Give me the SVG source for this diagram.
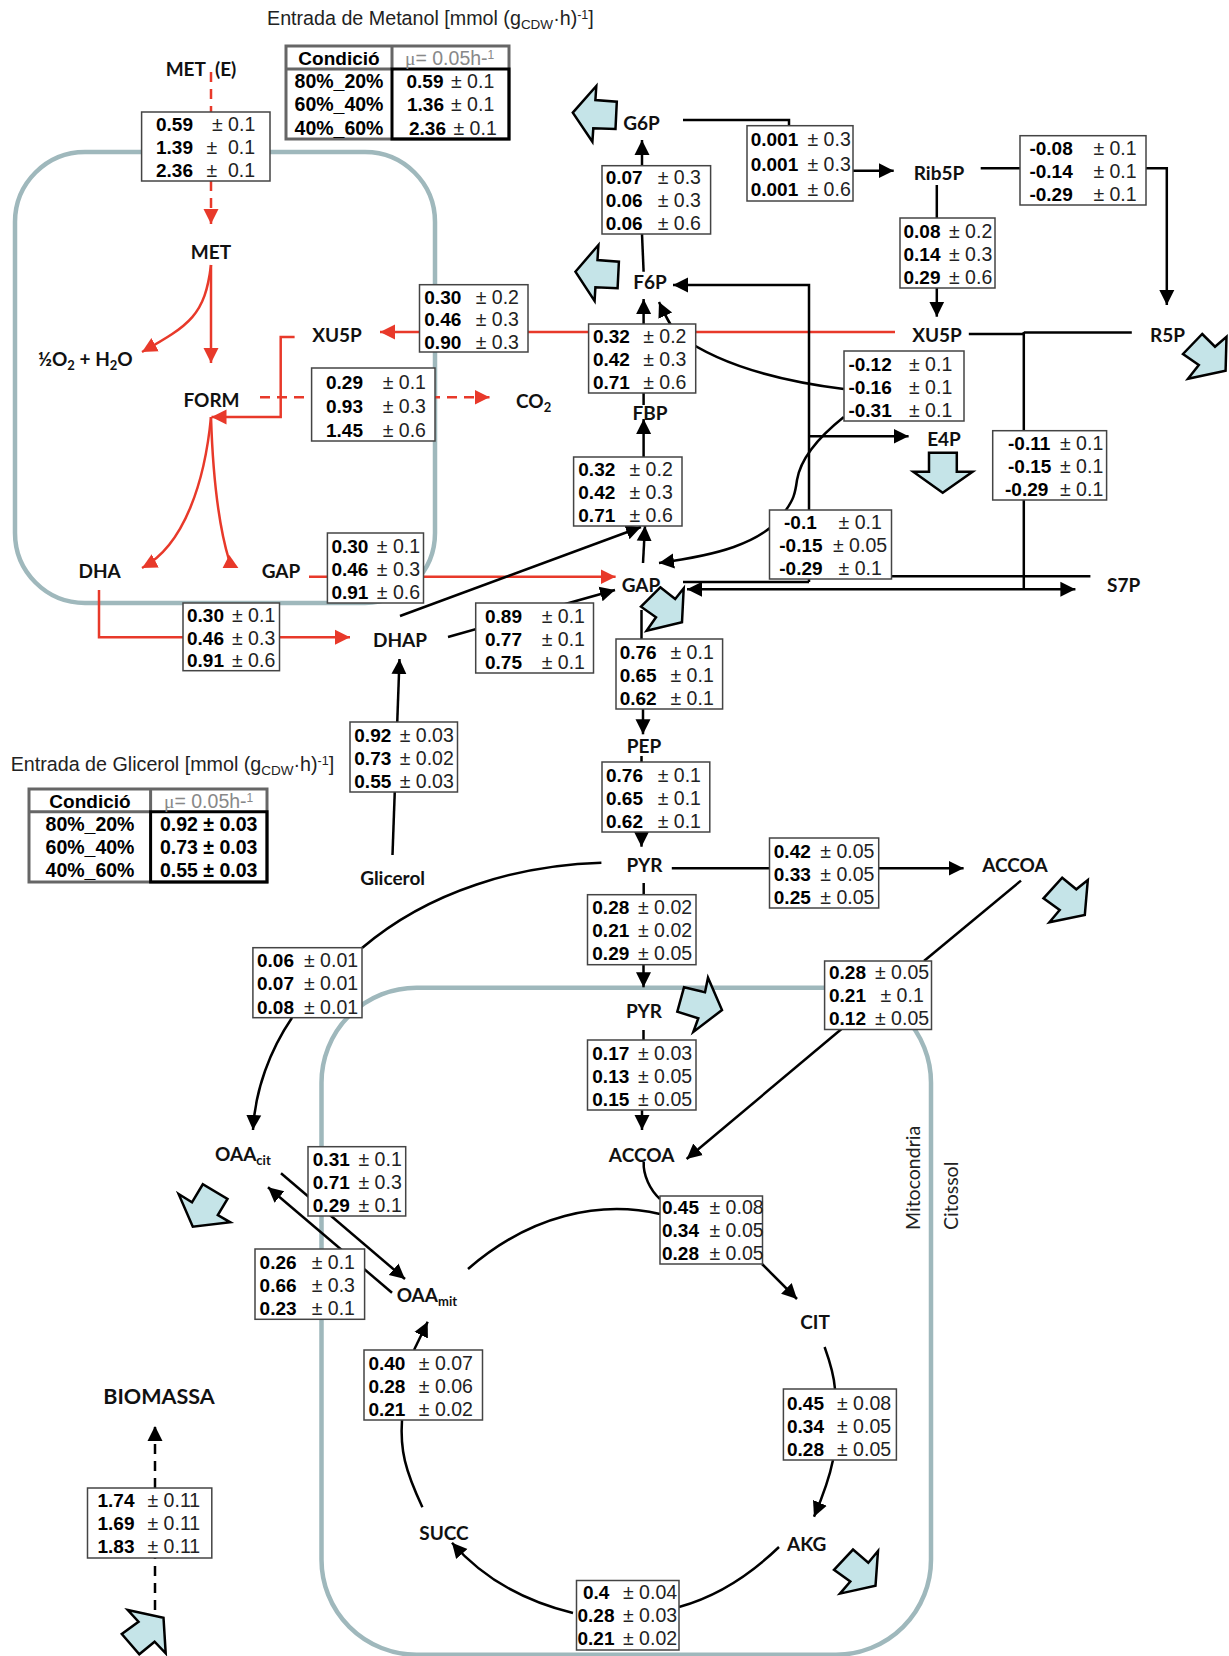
<svg xmlns="http://www.w3.org/2000/svg" width="1229" height="1656" viewBox="0 0 1229 1656">
<style>
text{font-family:"Liberation Sans",Arial,sans-serif;font-size:19.5px;fill:#222}
.b{font-weight:700;fill:#000;font-size:19px}
.tt{font-size:19.7px}
.tv{font-size:19.5px}
.l{font-family:Lato,"Noto Sans",sans-serif;font-weight:700;font-size:19px;fill:#111;text-anchor:middle}
.ls{text-anchor:start}
.r{font-family:Lato,"Noto Sans",sans-serif;font-size:19.5px;fill:#222}
.box rect{fill:#fff;stroke:#444;stroke-width:1.5}
.k,.rd{fill:none;stroke-width:2.5}
.k{stroke:#000;marker-end:url(#ak)}
.rd{stroke:#e8392a;marker-end:url(#ar)}
.n{marker-end:none}
.d{stroke-dasharray:10 7}
.mem{fill:none;stroke:#9fb8bc;stroke-width:4.5}
.t{fill:#c5e4e8;stroke:#000;stroke-width:2.5}
.tb{fill:none;stroke:#666;stroke-width:3}
.tk{fill:none;stroke:#000;stroke-width:3}
.g{fill:#888}
</style>
<defs>
<marker id="ak" markerUnits="userSpaceOnUse" markerWidth="17" markerHeight="17" refX="15" refY="8" orient="auto"><path d="M0,0.5L15,8L0,15.5z" fill="#000"/></marker>
<marker id="ar" markerUnits="userSpaceOnUse" markerWidth="17" markerHeight="17" refX="15" refY="8" orient="auto"><path d="M0,0.5L15,8L0,15.5z" fill="#e8392a"/></marker>
</defs>
<rect class="mem" x="15" y="152" width="420" height="451" rx="70"/>
<rect class="mem" x="321.5" y="987.7" width="609.5" height="667" rx="95"/>
<g id="connectors">
<path class="rd d n" d="M211,72V112"/>
<path class="rd d" d="M211,181V224"/>
<path class="rd" d="M211,265V363"/>
<path class="rd" d="M211,265C205,315 190,325 142,352"/>
<path class="rd" d="M588,332H380"/>
<path class="rd n" d="M696,332H895"/>
<path class="rd" d="M294.6,337H280.7V417H211.5"/>
<path class="rd d" d="M260,397.3H489.5"/>
<path class="rd" d="M211,417C205,480 185,545 142,568"/>
<path class="rd n" d="M211,417C213,480 220,530 229,560"/>
<polygon points="229.3,555 238.4,568 222.6,568" fill="#e8392a"/>
<path class="rd" d="M309,576.7H615.6"/>
<path class="rd" d="M99,590V637.3H350"/>
<path class="k" d="M400,616L641,527"/>
<path class="k" d="M448,637L615,590"/>
<path class="k" d="M392.5,855L399.5,659"/>
<path class="k" d="M643,563L645,526"/>
<path class="k" d="M643.6,457V419"/>
<path class="k n" d="M643.6,405V393"/>
<path class="k" d="M643.6,324V299"/>
<path class="k" d="M843.8,389C780,381 720,365 680,336C672,330 665,315 659,302"/>
<path class="k n" d="M643.6,271.7L642,234"/>
<path class="k" d="M642,166V140"/>
<path class="k n" d="M683,120H789V126"/>
<path class="k" d="M853,170.7H893.7"/>
<path class="k n" d="M980.7,168.3H1020"/>
<path class="k" d="M1146,168.3H1166.8V305"/>
<path class="k" d="M936.8,185V316.7"/>
<path class="k n" d="M968.8,334H1023.8"/>
<path class="k n" d="M1023.8,332.5H1131.8"/>
<path class="k n" d="M1023.8,332V589"/>
<path class="k" d="M809,582V285H673"/>
<path class="k n" d="M683,582H809"/>
<path class="k" d="M809,436.3H908.6"/>
<path class="k" d="M843.8,417C815,440 800,462 797,480C795,495 793,500 786,510C765,545 710,556 659,563"/>
<path class="k n" d="M891,576.3H1090.4"/>
<path class="k" d="M760,589.3H1075.4"/>
<path class="k" d="M760,589.3H687"/>
<path class="k n" d="M641.5,610V639"/>
<path class="k" d="M643,709V734.3"/>
<path class="k n" d="M641.5,756V762"/>
<path class="k" d="M641.5,832V846.7"/>
<path class="k" d="M671.8,868.3H963.6"/>
<path class="k n" d="M601.4,862.7C520,865 430,890 362,948"/>
<path class="k" d="M292,1017.7C270,1050 255,1090 253,1130"/>
<path class="k n" d="M643.7,883V895"/>
<path class="k" d="M643.5,965V987.3"/>
<path class="k n" d="M643.5,1030V1040"/>
<path class="k" d="M642,1110V1130"/>
<path class="k n" d="M1021,880.6L924,961"/>
<path class="k" d="M841.5,1029L686.6,1159"/>
<path class="k n" d="M643.7,1161.7C643,1175 650,1190 660,1199"/>
<path class="k n" d="M660,1214C600,1200 530,1215 468,1269"/>
<path class="k" d="M762,1264L797,1299"/>
<path class="k n" d="M824.6,1347C830,1362 834,1375 835,1389"/>
<path class="k" d="M833,1460C829,1480 822,1498 814,1516.7"/>
<path class="k n" d="M779,1547C750,1575 715,1597 679,1607"/>
<path class="k" d="M573,1613C520,1600 480,1575 452,1542.7"/>
<path class="k n" d="M422.4,1507.3C405,1470 400,1450 402,1420"/>
<path class="k" d="M414,1350L427.7,1321.7"/>
<path class="k" d="M281,1173.3L405,1279"/>
<path class="k" d="M392,1292.7L268,1187.3"/>
<path class="k d n" d="M155,1610V1558"/>
<path class="k d" d="M155,1488V1426"/>
</g>
<g id="table-metanol">
<text class="tt" x="267" y="25">Entrada de Metanol [mmol (g<tspan font-size="13.5" dy="4">CDW</tspan><tspan dy="-4">·h)</tspan><tspan font-size="12.5" dy="-6">-1</tspan><tspan dy="6">]</tspan></text>
<rect x="286" y="46" width="223" height="93" fill="#fff" class="tb"/>
<path class="tb" d="M286,69H392V46"/>
<path class="tk" d="M392,69H509V139H392z"/>
<text class="b" x="339" y="65" text-anchor="middle">Condició</text>
<text class="g" x="405" y="65"><tspan font-family="Liberation Serif" fill="#888">μ</tspan>= 0.05h-<tspan font-size="12" dy="-6" fill="#888">1</tspan></text>
<text class="b tv" x="339" y="88" text-anchor="middle">80%_20%</text>
<text class="b tv" x="339" y="111" text-anchor="middle">60%_40%</text>
<text class="b tv" x="339" y="135" text-anchor="middle">40%_60%</text>
<text x="406.5" y="88"><tspan class="b">0.59</tspan><tspan x="451">± 0.1</tspan></text>
<text x="407" y="111"><tspan class="b">1.36</tspan><tspan x="451">± 0.1</tspan></text>
<text x="409" y="135"><tspan class="b">2.36</tspan><tspan x="453.5">± 0.1</tspan></text>
</g>
<g id="table-glicerol">
<text class="tt" x="10.7" y="771">Entrada de Glicerol [mmol (g<tspan font-size="13.5" dy="4">CDW</tspan><tspan dy="-4">·h)</tspan><tspan font-size="12.5" dy="-6">-1</tspan><tspan dy="6">]</tspan></text>
<rect x="29" y="789" width="238" height="93" fill="#fff" class="tb"/>
<path class="tb" d="M29,811.7H150.6V789"/>
<path class="tk" d="M150.6,811.7H267V882H150.6z"/>
<text class="b" x="90" y="808" text-anchor="middle">Condició</text>
<text class="g" x="164" y="808"><tspan font-family="Liberation Serif" fill="#888">μ</tspan>= 0.05h-<tspan font-size="12" dy="-6" fill="#888">1</tspan></text>
<text class="b tv" x="90" y="831" text-anchor="middle">80%_20%</text>
<text class="b tv" x="90" y="854" text-anchor="middle">60%_40%</text>
<text class="b tv" x="90" y="877" text-anchor="middle">40%_60%</text>
<text class="b tv" x="160" y="831">0.92 ± 0.03</text>
<text class="b tv" x="160" y="854">0.73 ± 0.03</text>
<text class="b tv" x="160" y="877">0.55 ± 0.03</text>
</g>
<g id="f-met" class="box"><rect x="141.6" y="112" width="128.4" height="69"/>
<text x="156" y="131"><tspan class="b">0.59</tspan><tspan x="212">± 0.1</tspan></text>
<text x="156" y="154"><tspan class="b">1.39</tspan><tspan x="206.5">±</tspan><tspan x="228">0.1</tspan></text>
<text x="156" y="177"><tspan class="b">2.36</tspan><tspan x="206.5">±</tspan><tspan x="228">0.1</tspan></text></g>
<g id="f-xu5p-l" class="box"><rect x="419.5" y="284.7" width="108.5" height="67.3"/>
<text x="424.3" y="304"><tspan class="b">0.30</tspan><tspan x="475.7">± 0.2</tspan></text>
<text x="424.3" y="326"><tspan class="b">0.46</tspan><tspan x="475.7">± 0.3</tspan></text>
<text x="424.3" y="349"><tspan class="b">0.90</tspan><tspan x="475.7">± 0.3</tspan></text></g>
<g id="f-form" class="box"><rect x="311.6" y="368" width="123.4" height="73"/>
<text x="326" y="389"><tspan class="b">0.29</tspan><tspan x="382.7">± 0.1</tspan></text>
<text x="326" y="413"><tspan class="b">0.93</tspan><tspan x="382.7">± 0.3</tspan></text>
<text x="326" y="437"><tspan class="b">1.45</tspan><tspan x="382.7">± 0.6</tspan></text></g>
<g id="f-g6p" class="box"><rect x="747" y="125.7" width="106" height="75.3"/>
<text x="750.7" y="146"><tspan class="b">0.001</tspan><tspan x="807.5">± 0.3</tspan></text>
<text x="750.7" y="171"><tspan class="b">0.001</tspan><tspan x="807.5">± 0.3</tspan></text>
<text x="750.7" y="196"><tspan class="b">0.001</tspan><tspan x="807.5">± 0.6</tspan></text></g>
<g id="f-rib-r" class="box"><rect x="1020" y="135.7" width="126" height="69.3"/>
<text x="1029.4" y="155"><tspan class="b">-0.08</tspan><tspan x="1093.4">± 0.1</tspan></text>
<text x="1029.4" y="178"><tspan class="b">-0.14</tspan><tspan x="1093.4">± 0.1</tspan></text>
<text x="1029.4" y="201"><tspan class="b">-0.29</tspan><tspan x="1093.4">± 0.1</tspan></text></g>
<g id="f-f6p" class="box"><rect x="602" y="165.7" width="108.6" height="68.3"/>
<text x="605.7" y="184"><tspan class="b">0.07</tspan><tspan x="657.7">± 0.3</tspan></text>
<text x="605.7" y="207"><tspan class="b">0.06</tspan><tspan x="657.7">± 0.3</tspan></text>
<text x="605.7" y="230"><tspan class="b">0.06</tspan><tspan x="657.7">± 0.6</tspan></text></g>
<g id="f-rib" class="box"><rect x="900" y="218" width="95" height="70"/>
<text x="903.5" y="238"><tspan class="b">0.08</tspan><tspan x="949">± 0.2</tspan></text>
<text x="903.5" y="261"><tspan class="b">0.14</tspan><tspan x="949">± 0.3</tspan></text>
<text x="903.5" y="284"><tspan class="b">0.29</tspan><tspan x="949">± 0.6</tspan></text></g>
<g id="f-fbp-a" class="box"><rect x="588.6" y="324" width="107.1" height="69"/>
<text x="592.9" y="343"><tspan class="b">0.32</tspan><tspan x="643.2">± 0.2</tspan></text>
<text x="592.9" y="366"><tspan class="b">0.42</tspan><tspan x="643.2">± 0.3</tspan></text>
<text x="592.9" y="389"><tspan class="b">0.71</tspan><tspan x="643.2">± 0.6</tspan></text></g>
<g id="f-e4p" class="box"><rect x="844" y="351" width="120" height="70"/>
<text x="848.4" y="370.7"><tspan class="b">-0.12</tspan><tspan x="909">± 0.1</tspan></text>
<text x="848.4" y="393.7"><tspan class="b">-0.16</tspan><tspan x="909">± 0.1</tspan></text>
<text x="848.4" y="416.7"><tspan class="b">-0.31</tspan><tspan x="909">± 0.1</tspan></text></g>
<g id="f-fbp-b" class="box"><rect x="573.6" y="457" width="108.4" height="69"/>
<text x="578.3" y="476"><tspan class="b">0.32</tspan><tspan x="629.5">± 0.2</tspan></text>
<text x="578.3" y="499"><tspan class="b">0.42</tspan><tspan x="629.5">± 0.3</tspan></text>
<text x="578.3" y="522"><tspan class="b">0.71</tspan><tspan x="629.5">± 0.6</tspan></text></g>
<g id="f-s7p" class="box"><rect x="992.7" y="430.7" width="113.9" height="69.3"/>
<text x="1008" y="450"><tspan class="b">-0.11</tspan><tspan x="1060">± 0.1</tspan></text>
<text x="1008" y="473"><tspan class="b">-0.15</tspan><tspan x="1060">± 0.1</tspan></text>
<text x="1005" y="496"><tspan class="b">-0.29</tspan><tspan x="1060">± 0.1</tspan></text></g>
<g id="f-tal" class="box"><rect x="769.5" y="510" width="122" height="69"/>
<text x="784" y="529"><tspan class="b">-0.1</tspan><tspan x="838.6">± 0.1</tspan></text>
<text x="779.3" y="551.7"><tspan class="b">-0.15</tspan><tspan x="833">± 0.05</tspan></text>
<text x="779.3" y="575"><tspan class="b">-0.29</tspan><tspan x="838.6">± 0.1</tspan></text></g>
<g id="f-gap" class="box"><rect x="327.4" y="533" width="96.1" height="70"/>
<text x="331.4" y="553.3"><tspan class="b">0.30</tspan><tspan x="376.8">± 0.1</tspan></text>
<text x="331.4" y="576.3"><tspan class="b">0.46</tspan><tspan x="376.8">± 0.3</tspan></text>
<text x="331.4" y="599.3"><tspan class="b">0.91</tspan><tspan x="376.8">± 0.6</tspan></text></g>
<g id="f-dha" class="box"><rect x="183" y="603" width="96.5" height="67.7"/>
<text x="187" y="622.3"><tspan class="b">0.30</tspan><tspan x="232">± 0.1</tspan></text>
<text x="187" y="644.5"><tspan class="b">0.46</tspan><tspan x="232">± 0.3</tspan></text>
<text x="187" y="667.3"><tspan class="b">0.91</tspan><tspan x="232">± 0.6</tspan></text></g>
<g id="f-dhap" class="box"><rect x="475.7" y="603" width="117.8" height="70"/>
<text x="485" y="623.3"><tspan class="b">0.89</tspan><tspan x="541.7">± 0.1</tspan></text>
<text x="485" y="646.3"><tspan class="b">0.77</tspan><tspan x="541.7">± 0.1</tspan></text>
<text x="485" y="669.3"><tspan class="b">0.75</tspan><tspan x="541.7">± 0.1</tspan></text></g>
<g id="f-gli" class="box"><rect x="350" y="722" width="107.5" height="70"/>
<text x="354.3" y="742"><tspan class="b">0.92</tspan><tspan x="399.7">± 0.03</tspan></text>
<text x="354.3" y="765"><tspan class="b">0.73</tspan><tspan x="399.7">± 0.02</tspan></text>
<text x="354.3" y="788"><tspan class="b">0.55</tspan><tspan x="399.7">± 0.03</tspan></text></g>
<g id="f-pep" class="box"><rect x="616" y="639" width="106.6" height="70"/>
<text x="619.7" y="659.3"><tspan class="b">0.76</tspan><tspan x="670.5">± 0.1</tspan></text>
<text x="619.7" y="682.3"><tspan class="b">0.65</tspan><tspan x="670.5">± 0.1</tspan></text>
<text x="619.7" y="705.3"><tspan class="b">0.62</tspan><tspan x="670.5">± 0.1</tspan></text></g>
<g id="f-pyr" class="box"><rect x="602" y="762" width="107.8" height="70"/>
<text x="606" y="782"><tspan class="b">0.76</tspan><tspan x="657.7">± 0.1</tspan></text>
<text x="606" y="805"><tspan class="b">0.65</tspan><tspan x="657.7">± 0.1</tspan></text>
<text x="606" y="828"><tspan class="b">0.62</tspan><tspan x="657.7">± 0.1</tspan></text></g>
<g id="f-accoa" class="box"><rect x="769.5" y="838" width="109.2" height="70"/>
<text x="773.8" y="858.3"><tspan class="b">0.42</tspan><tspan x="820.3">± 0.05</tspan></text>
<text x="773.8" y="881.3"><tspan class="b">0.33</tspan><tspan x="820.3">± 0.05</tspan></text>
<text x="773.8" y="904.3"><tspan class="b">0.25</tspan><tspan x="820.3">± 0.05</tspan></text></g>
<g id="f-pyrm" class="box"><rect x="587.5" y="894.7" width="108.5" height="70"/>
<text x="592.3" y="914.3"><tspan class="b">0.28</tspan><tspan x="638">± 0.02</tspan></text>
<text x="592.3" y="937.3"><tspan class="b">0.21</tspan><tspan x="638">± 0.02</tspan></text>
<text x="592.3" y="960.3"><tspan class="b">0.29</tspan><tspan x="638">± 0.05</tspan></text></g>
<g id="f-oaacit" class="box"><rect x="252.9" y="947.7" width="109.1" height="70"/>
<text x="257" y="967.3"><tspan class="b">0.06</tspan><tspan x="304">± 0.01</tspan></text>
<text x="257" y="990.3"><tspan class="b">0.07</tspan><tspan x="304">± 0.01</tspan></text>
<text x="257" y="1014"><tspan class="b">0.08</tspan><tspan x="304">± 0.01</tspan></text></g>
<g id="f-accoam" class="box"><rect x="587.5" y="1040" width="108.5" height="70"/>
<text x="592.3" y="1060.3"><tspan class="b">0.17</tspan><tspan x="638">± 0.03</tspan></text>
<text x="592.3" y="1083.3"><tspan class="b">0.13</tspan><tspan x="638">± 0.05</tspan></text>
<text x="592.3" y="1106.3"><tspan class="b">0.15</tspan><tspan x="638">± 0.05</tspan></text></g>
<g id="f-accoa-shut" class="box"><rect x="824.6" y="961" width="106.9" height="68.5"/>
<text x="829" y="979"><tspan class="b">0.28</tspan><tspan x="875">± 0.05</tspan></text>
<text x="829" y="1002"><tspan class="b">0.21</tspan><tspan x="880.5">± 0.1</tspan></text>
<text x="829" y="1025"><tspan class="b">0.12</tspan><tspan x="875">± 0.05</tspan></text></g>
<g id="f-oaa1" class="box"><rect x="308" y="1146.7" width="97.7" height="69.3"/>
<text x="312.8" y="1166"><tspan class="b">0.31</tspan><tspan x="358.5">± 0.1</tspan></text>
<text x="312.8" y="1189"><tspan class="b">0.71</tspan><tspan x="358.5">± 0.3</tspan></text>
<text x="312.8" y="1212"><tspan class="b">0.29</tspan><tspan x="358.5">± 0.1</tspan></text></g>
<g id="f-oaa2" class="box"><rect x="255" y="1249" width="109.6" height="70.3"/>
<text x="259.6" y="1269"><tspan class="b">0.26</tspan><tspan x="311.7">± 0.1</tspan></text>
<text x="259.6" y="1292.3"><tspan class="b">0.66</tspan><tspan x="311.7">± 0.3</tspan></text>
<text x="259.6" y="1315"><tspan class="b">0.23</tspan><tspan x="311.7">± 0.1</tspan></text></g>
<g id="f-cs" class="box"><rect x="660" y="1196" width="102.5" height="68"/>
<text x="662" y="1214"><tspan class="b">0.45</tspan><tspan x="709.5">± 0.08</tspan></text>
<text x="662" y="1237"><tspan class="b">0.34</tspan><tspan x="709.5">± 0.05</tspan></text>
<text x="662" y="1260"><tspan class="b">0.28</tspan><tspan x="709.5">± 0.05</tspan></text></g>
<g id="f-cit" class="box"><rect x="783.4" y="1389" width="113" height="71"/>
<text x="787" y="1410"><tspan class="b">0.45</tspan><tspan x="837">± 0.08</tspan></text>
<text x="787" y="1433"><tspan class="b">0.34</tspan><tspan x="837">± 0.05</tspan></text>
<text x="787" y="1456"><tspan class="b">0.28</tspan><tspan x="837">± 0.05</tspan></text></g>
<g id="f-akg" class="box"><rect x="576.5" y="1580.5" width="102.5" height="69.5"/>
<text x="583" y="1599.3"><tspan class="b">0.4</tspan><tspan x="623">± 0.04</tspan></text>
<text x="577.5" y="1622"><tspan class="b">0.28</tspan><tspan x="623">± 0.03</tspan></text>
<text x="577.5" y="1645"><tspan class="b">0.21</tspan><tspan x="623">± 0.02</tspan></text></g>
<g id="f-succ" class="box"><rect x="364" y="1350" width="118.5" height="70"/>
<text x="368.4" y="1370"><tspan class="b">0.40</tspan><tspan x="418.8">± 0.07</tspan></text>
<text x="368.4" y="1393"><tspan class="b">0.28</tspan><tspan x="418.8">± 0.06</tspan></text>
<text x="368.4" y="1416"><tspan class="b">0.21</tspan><tspan x="418.8">± 0.02</tspan></text></g>
<g id="f-bio" class="box"><rect x="87.5" y="1488" width="124.3" height="70"/>
<text x="97.5" y="1507.3"><tspan class="b">1.74</tspan><tspan x="147.5">± 0.11</tspan></text>
<text x="97.5" y="1530.3"><tspan class="b">1.69</tspan><tspan x="147.5">± 0.11</tspan></text>
<text x="97.5" y="1553.3"><tspan class="b">1.83</tspan><tspan x="147.5">± 0.11</tspan></text></g>
<g id="labels" transform="translate(0,1)">
<g id="n-mete"><text class="l" x="201" y="75" word-spacing="5">MET (E)</text></g>
<g id="n-met"><text class="l" x="211" y="258">MET</text></g>
<g id="n-o2h2o"><text class="l ls" x="38" y="365">½O<tspan font-size="13" dy="4">2</tspan><tspan dy="-4"> + H</tspan><tspan font-size="13" dy="4">2</tspan><tspan dy="-4">O</tspan></text></g>
<g id="n-form"><text class="l" x="211.5" y="406">FORM</text></g>
<g id="n-xu5p-l"><text class="l" x="337" y="340.7">XU5P</text></g>
<g id="n-co2"><text class="l ls" x="516" y="406.7">CO<tspan font-size="13" dy="4">2</tspan></text></g>
<g id="n-dha"><text class="l" x="99.6" y="576.7">DHA</text></g>
<g id="n-gap-l"><text class="l" x="281" y="576.7">GAP</text></g>
<g id="n-dhap"><text class="l" x="400" y="645.7">DHAP</text></g>
<g id="n-gli"><text class="l" x="392.6" y="884">Glicerol</text></g>
<g id="n-g6p"><text class="l" x="641.5" y="128.7">G6P</text></g>
<g id="n-f6p"><text class="l" x="650" y="288">F6P</text></g>
<g id="n-fbp"><text class="l" x="650" y="419">FBP</text></g>
<g id="n-rib5p"><text class="l" x="939" y="178.7">Rib5P</text></g>
<g id="n-xu5p"><text class="l" x="937" y="340.7">XU5P</text></g>
<g id="n-r5p"><text class="l" x="1167.6" y="340.7">R5P</text></g>
<g id="n-e4p"><text class="l" x="944" y="445">E4P</text></g>
<g id="n-gap"><text class="l" x="641" y="590.7">GAP</text></g>
<g id="n-s7p"><text class="l" x="1123.7" y="590.7">S7P</text></g>
<g id="n-pep"><text class="l" x="644" y="751.7">PEP</text></g>
<g id="n-pyr"><text class="l" x="644.5" y="870.7">PYR</text></g>
<g id="n-accoa"><text class="l" x="1015" y="870.7">ACCOA</text></g>
<g id="n-pyrm"><text class="l" x="644" y="1016.7">PYR</text></g>
<g id="n-oaacit"><text class="l ls" x="215" y="1160">OAA<tspan font-size="13" dy="4">cit</tspan></text></g>
<g id="n-accoam"><text class="l" x="641.6" y="1161">ACCOA</text></g>
<g id="n-oaamit"><text class="l ls" x="396.7" y="1300.7">OAA<tspan font-size="13" dy="4">mit</tspan></text></g>
<g id="n-bio"><text class="l" x="159" y="1403" style="font-size:21.5px">BIOMASSA</text></g>
<g id="n-succ"><text class="l" x="444" y="1539">SUCC</text></g>
<g id="n-cit"><text class="l" x="815" y="1327.6">CIT</text></g>
<g id="n-akg"><text class="l" x="806.6" y="1550">AKG</text></g>
</g>
<text class="r" transform="translate(920,1230) rotate(-90)">Mitocondria</text>
<text class="r" transform="translate(958,1230) rotate(-90)">Citossol</text>
<g id="outflows">
<polygon class="t" points="572.8,112.7 596.3,86 595.4,100 616.8,101.7 615.5,129 593.3,128.3 592.4,141.7"/>
<polygon class="t" points="575.4,271.7 598.4,245 597.5,260 618.9,261.7 617.6,288.3 595.4,287.3 594.6,301"/>
<polygon class="t" points="913.3,471.7 929,471.7 929,452.7 956.8,452.7 956.8,471.7 972.6,471.7 942.7,492.7"/>
<polygon class="t" points="1202.2,334 1215,346.7 1226.5,336.7 1225.6,370.7 1188,378.7 1198.8,365 1183,354"/>
<polygon class="t" points="660.3,587.3 675.2,599 683.7,588.3 682,622.3 646.6,630.7 656,617.3 641,606.7"/>
<polygon class="t" points="1062.2,877.7 1076.3,889.3 1087.8,880 1084.8,915 1049.4,922.3 1059.7,910 1043.5,898.3"/>
<polygon class="t" points="684,987.3 705,992.3 708,977.7 722,1010 693.3,1032 698.3,1018.3 677.3,1011.7"/>
<polygon class="t" points="178.6,1194 192,1202.3 202.8,1184.3 227.5,1199 217.8,1215 230.3,1222.3 192.8,1226.7"/>
<polygon class="t" points="127.8,1610 163.5,1617.7 165.7,1653.3 154.6,1641.7 139.3,1654.3 121.8,1634 138.5,1621.7"/>
<polygon class="t" points="834,1569.8 853,1549.6 868.3,1562.7 878,1551 875.5,1585.8 840,1593.6 850.3,1581.5"/>
</g>
</svg>
